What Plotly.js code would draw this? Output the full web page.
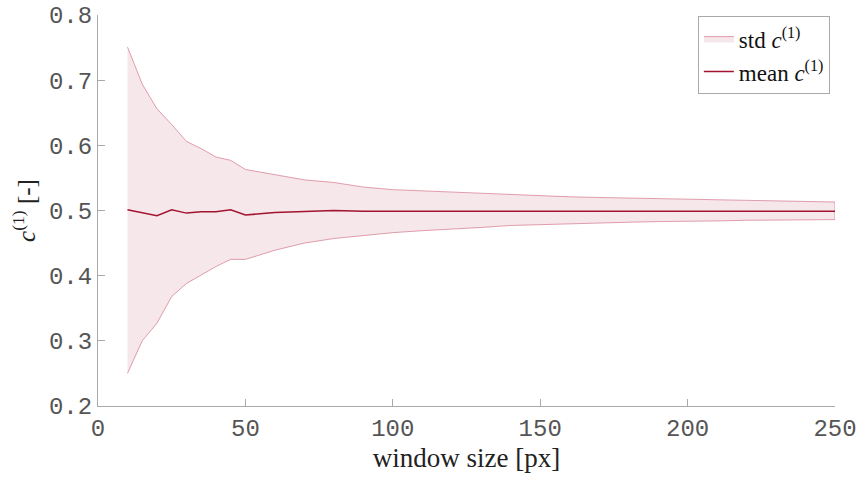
<!DOCTYPE html>
<html>
<head>
<meta charset="utf-8">
<script src="https://cdn.plot.ly/plotly-3.0.1.min.js"></script>
<style>html,body{margin:0;padding:0;background:#fff;}#chart{width:860px;height:479px;}</style>
</head>
<body>
<div id="chart"></div>
<script>
// window sizes [px]
const windowSize = [10,15,20,25,30,35,40,45,50,60,70,80,90,100,110,120,130,140,150,160,170,180,190,200,210,220,230,240,250];
// mean c^(1)
const meanC = [0.501,0.497,0.492,0.501,0.496,0.498,0.498,0.501,0.493,0.497,0.498,0.500,0.499,0.499,0.499,0.500,0.500,0.500,0.500,0.500,0.500,0.500,0.500,0.500,0.500,0.500,0.500,0.499,0.499];
// mean + std
const upperC = [0.751,0.694,0.656,0.632,0.606,0.595,0.582,0.577,0.563,0.555,0.547,0.543,0.536,0.532,0.530,0.528,0.526,0.524,0.522,0.521,0.520,0.519,0.518,0.517,0.516,0.516,0.515,0.514,0.513];
// mean - std
const lowerC = [0.250,0.300,0.327,0.368,0.388,0.401,0.414,0.425,0.425,0.439,0.450,0.457,0.462,0.466,0.469,0.472,0.474,0.477,0.479,0.480,0.481,0.482,0.483,0.484,0.484,0.485,0.485,0.486,0.486];
const xTicks = [0,50,100,150,200,250];
const yTicks = [0.2,0.3,0.4,0.5,0.6,0.7,0.8];

const bandX = windowSize.concat(windowSize.slice().reverse());
const bandY = upperC.concat(lowerC.slice().reverse());

const serif = "Liberation Serif";
const mono = "Liberation Mono";

const traces = [
  {
    x: bandX, y: bandY, type: 'scatter', mode: 'lines', fill: 'toself',
    fillcolor: 'rgba(162,20,47,0.1)',
    line: {color: 'rgba(205,100,125,0.6)', width: 1},
    name: 'std <i>c</i><sup>(1)</sup>', hoverinfo: 'skip'
  },
  {
    x: windowSize, y: meanC, type: 'scatter', mode: 'lines',
    line: {color: '#a2142f', width: 1.5},
    name: 'mean <i>c</i><sup>(1)</sup>'
  }
];

const axisCommon = {
  showgrid: false, zeroline: false, showline: true, linecolor: '#aaaaaa', linewidth: 1,
  ticks: 'inside', ticklen: 7, tickcolor: '#aaaaaa', tickwidth: 1,
  tickfont: {family: mono, size: 24, color: '#555555'}, mirror: false
};

const layout = {
  width: 860, height: 479,
  margin: {l: 98, r: 25, t: 15, b: 73},
  paper_bgcolor: '#ffffff', plot_bgcolor: '#ffffff',
  showlegend: true,
  legend: {
    x: 0.993, y: 0.997, xanchor: 'right', yanchor: 'top',
    bgcolor: '#ffffff', bordercolor: '#aaaaaa', borderwidth: 1,
    font: {family: serif, size: 23, color: '#111111'},
    tracegroupgap: 0, itemwidth: 30
  },
  xaxis: Object.assign({}, axisCommon, {
    range: [0, 250], tickvals: xTicks, ticktext: xTicks.map(String),
    title: {text: 'window size [px]', font: {family: serif, size: 27, color: '#222222'}, standoff: 6}
  }),
  yaxis: Object.assign({}, axisCommon, {
    range: [0.2, 0.8], tickvals: yTicks, ticktext: yTicks.map(v => v.toFixed(1)),
    title: {text: '<i>c</i><sup>(1)</sup> [-]', font: {family: serif, size: 25, color: '#222222'}, standoff: 6}
  })
};

Plotly.newPlot('chart', traces, layout, {displayModeBar: false, staticPlot: true});
</script>
</body>
</html>
